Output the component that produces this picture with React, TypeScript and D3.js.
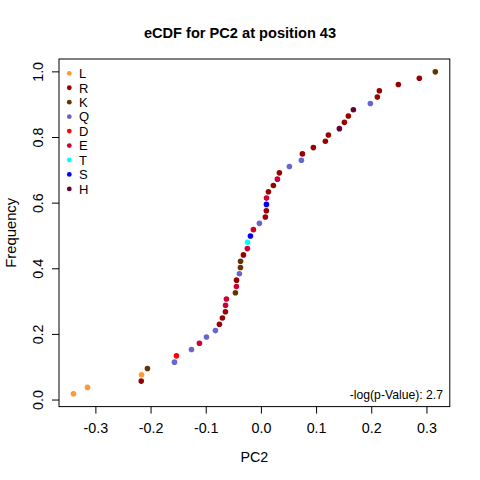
import React from "react";
import * as d3 from "d3";

// sorted PC2 values and the residue of each point
const pc2Values = [
  -0.3406, -0.3152, -0.2178, -0.2172, -0.2065, -0.1576, -0.154, -0.1268, -0.1123, -0.0996,
  -0.0833, -0.0761, -0.0707, -0.0652, -0.065, -0.0634, -0.0471, -0.0453, -0.0451, -0.0399,
  -0.038, -0.0378, -0.0326, -0.0254, -0.0252, -0.0199, -0.0145, -0.0036, 0.0072, 0.009,
  0.0091, 0.0092, 0.0127, 0.0217, 0.029, 0.0326, 0.0507, 0.0725, 0.0743, 0.0942,
  0.1159, 0.1214, 0.1413, 0.1504, 0.1576, 0.1667, 0.1975, 0.2101, 0.2138, 0.2482,
  0.2862, 0.3152,
];
const residues = [
  "L", "L", "R", "L", "K", "Q", "D", "Q", "E", "Q",
  "Q", "R", "R", "R", "E", "E", "K", "E", "R", "Q",
  "K", "K", "R", "E", "T", "S", "E", "Q", "R", "R",
  "S", "E", "R", "R", "E", "R", "Q", "Q", "R", "R",
  "R", "R", "H", "R", "R", "H", "Q", "R", "R", "R",
  "R", "K",
];
const legendLabels = ["L", "R", "K", "Q", "D", "E", "T", "S", "H"];
const legendColors = [
  "#FF9933", "#990000", "#663300", "#6666CC", "#FF0000",
  "#CC0033", "#00FFFF", "#0000FF", "#660033",
];
const xTicks = [-0.3, -0.2, -0.1, 0.0, 0.1, 0.2, 0.3];
const yTicks = [0, 0.2, 0.4, 0.6, 0.8, 1.0];

const W = 480;
const H = 480;
const left = 59;
const right = 449.8;
const top = 59;
const bottom = 406.6;

const pad = (lo: number, hi: number): [number, number] => {
  const d = (hi - lo) * 0.04;
  return [lo - d, hi + d];
};

export default function App() {
  const n = pc2Values.length;
  const freq = pc2Values.map((_, i) => (i + 1) / n);
  const x = d3
    .scaleLinear()
    .domain(pad(d3.min(pc2Values)!, d3.max(pc2Values)!))
    .range([left, right]);
  const y = d3
    .scaleLinear()
    .domain(pad(1 / n, 1))
    .range([bottom, top]);
  const color = d3.scaleOrdinal<string, string>().domain(legendLabels).range(legendColors);
  const font = "Liberation Sans, Arial, sans-serif";
  const fmt = (t: number) => d3.format(".1f")(t).replace("\u2212", "-");

  return (
    <svg
      width={W}
      height={H}
      style={{ position: "absolute", left: 0, top: 0, background: "#fff" }}
      fontFamily={font}
    >
      <rect x={0} y={0} width={W} height={H} fill="#fff" />
      <text x={240} y={38} textAnchor="middle" fontWeight="bold" fontSize={14.6}>
        eCDF for PC2 at position 43
      </text>
      <rect x={left} y={top} width={right - left} height={bottom - top} fill="none" stroke="#000" />
      {/* x axis */}
      {xTicks.map((t) => (
        <g key={"x" + t}>
          <line x1={x(t)} x2={x(t)} y1={bottom} y2={bottom + 7} stroke="#000" />
          <text x={x(t)} y={bottom + 26} textAnchor="middle" fontSize={14.3}>
            {fmt(t)}
          </text>
        </g>
      ))}
      <text x={(left + right) / 2} y={462} textAnchor="middle" fontSize={14.3}>
        PC2
      </text>
      {/* y axis */}
      {yTicks.map((t) => (
        <g key={"y" + t}>
          <line x1={left - 7} x2={left} y1={y(t)} y2={y(t)} stroke="#000" />
          <text
            transform={`translate(${left - 16},${y(t)}) rotate(-90)`}
            textAnchor="middle"
            fontSize={14.3}
          >
            {fmt(t)}
          </text>
        </g>
      ))}
      <text
        transform={`translate(16,${(top + bottom) / 2}) rotate(-90)`}
        textAnchor="middle"
        fontSize={14.8}
      >
        Frequency
      </text>
      {/* points */}
      {pc2Values.map((v, i) => (
        <circle key={i} cx={x(v)} cy={y(freq[i])} r={2.8} fill={color(residues[i])} />
      ))}
      {/* legend */}
      {legendLabels.map((l, i) => (
        <g key={l}>
          <circle cx={69.3} cy={73.3 + i * 14.45} r={2.4} fill={legendColors[i]} />
          <text x={79} y={73.3 + i * 14.45 + 4.8} fontSize={13}>
            {l}
          </text>
        </g>
      ))}
      <text x={443} y={398.5} textAnchor="end" fontSize={12.2}>
        -log(p-Value): 2.7
      </text>
    </svg>
  );
}
